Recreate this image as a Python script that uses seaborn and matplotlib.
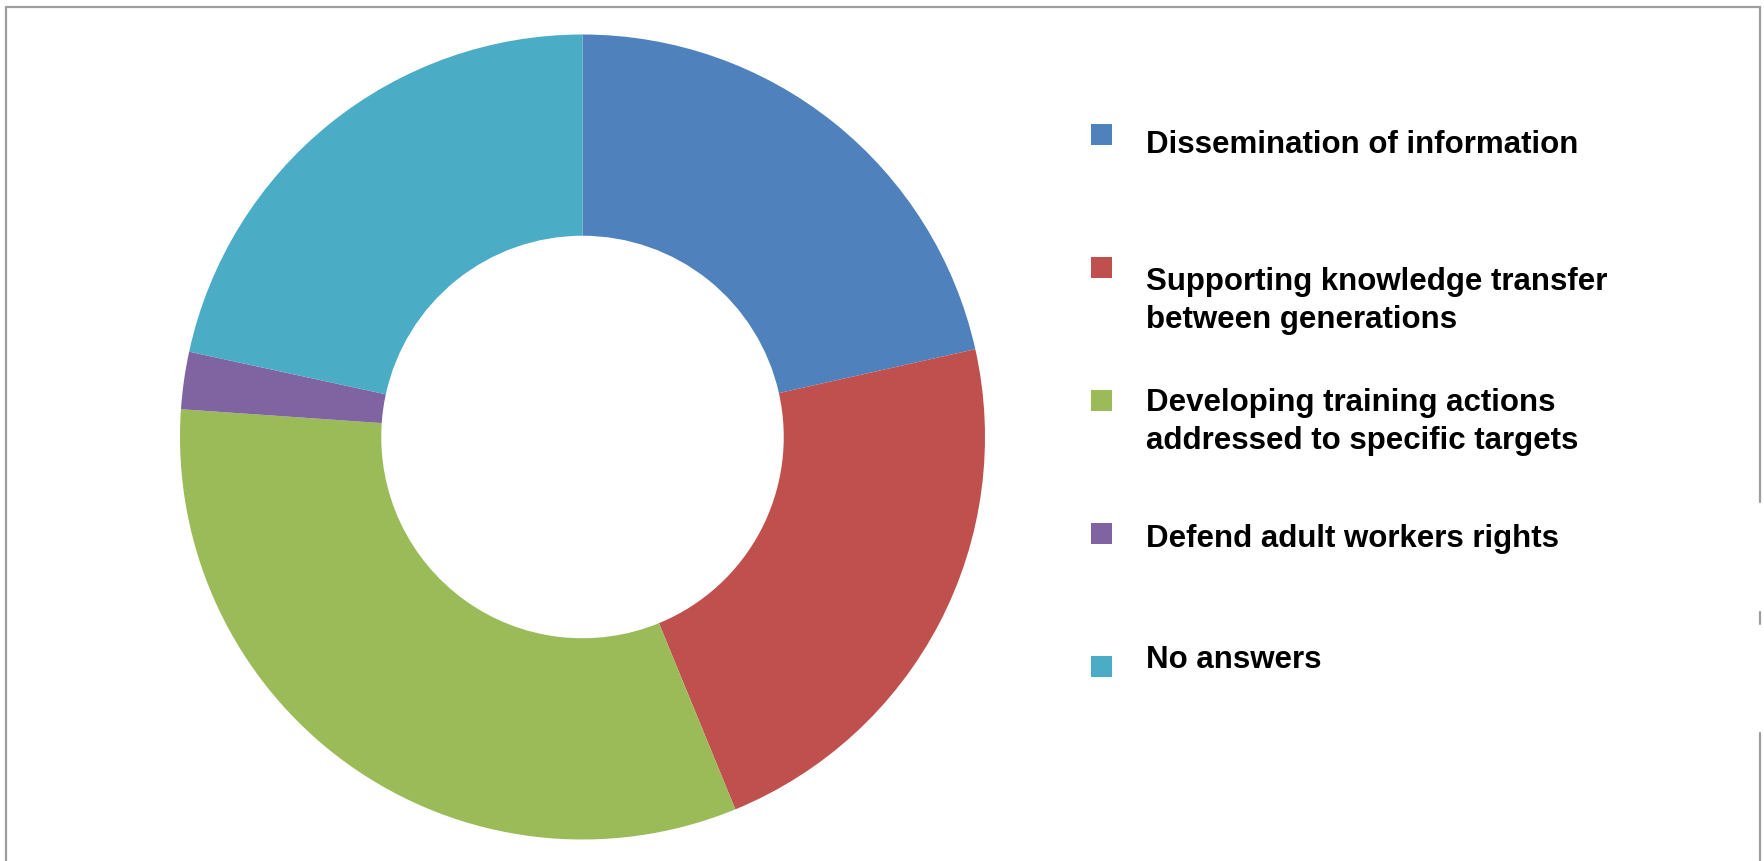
import matplotlib
matplotlib.use("Agg")
import matplotlib.pyplot as plt
import seaborn as sns
from matplotlib.patches import Rectangle
from matplotlib.lines import Line2D

# ---- data ----
categories = [
    "Dissemination of information",
    "Supporting knowledge transfer\nbetween generations",
    "Developing training actions\naddressed to specific targets",
    "Defend adult workers rights",
    "No answers",
]
shares = [21.5, 22.3, 32.3, 2.3, 21.6]
colors = ["#4F81BD", "#C0504D", "#9BBB59", "#8064A2", "#4BACC6"]

# ---- style ----
sns.set_theme(style="white")
plt.rcParams["font.family"] = ["Liberation Sans", "DejaVu Sans"]
palette = sns.color_palette(colors)

W, H = 1765, 862
fig = plt.figure(figsize=(W / 100, H / 100), dpi=100)
fig.patch.set_facecolor("white")

# donut axes: centre (582.5, 438) px from top-left, radius 402.5 px
cx, cy, r = 582.5, 438.0, 402.5
ax = fig.add_axes([(cx - r) / W, (H - cy - r) / H, 2 * r / W, 2 * r / H])
ax.pie(shares, colors=palette, startangle=90, counterclock=False, radius=1.0,
       wedgeprops=dict(width=0.5, edgecolor="none", linewidth=0))
ax.set_xlim(-1, 1)
ax.set_ylim(-1, 1)
ax.set_aspect("auto")
ax.axis("off")

# ---- legend (drawn in pixel layout) ----
sq_x, sq_size = 1091, 21
sq_tops = [125, 258, 391, 524, 657]
text_x = 1146
first_baselines = [153.3, 290, 411, 546.7, 667.7]
line_step = 37.7
for i, (lab, col) in enumerate(zip(categories, palette)):
    fig.patches.append(Rectangle((sq_x / W, 1 - (sq_tops[i] + sq_size) / H),
                                 sq_size / W, sq_size / H,
                                 transform=fig.transFigure, facecolor=col,
                                 edgecolor="none"))
    for j, line in enumerate(lab.split("\n")):
        yb = first_baselines[i] + j * line_step
        fig.text(text_x / W, 1 - yb / H, line, fontsize=22.5, fontweight="bold",
                 color="black", ha="left", va="baseline")

# ---- frame lines of the chart area ----
gray = "#9E9E9E"
def hline(x0, x1, y):
    fig.add_artist(Line2D([x0 / W, x1 / W], [1 - y / H, 1 - y / H],
                          transform=fig.transFigure, color=gray, lw=1.6))
def vline(x, y0, y1):
    fig.add_artist(Line2D([x / W, x / W], [1 - y0 / H, 1 - y1 / H],
                          transform=fig.transFigure, color=gray, lw=1.6))

hline(6, 1760.5, 7.5)
vline(6.5, 7.5, 862)
vline(1760.5, 7.5, 503)
vline(1760.5, 613, 625)
vline(1760.5, 734, 862)

fig.savefig("out.png", dpi=100, facecolor="white")
